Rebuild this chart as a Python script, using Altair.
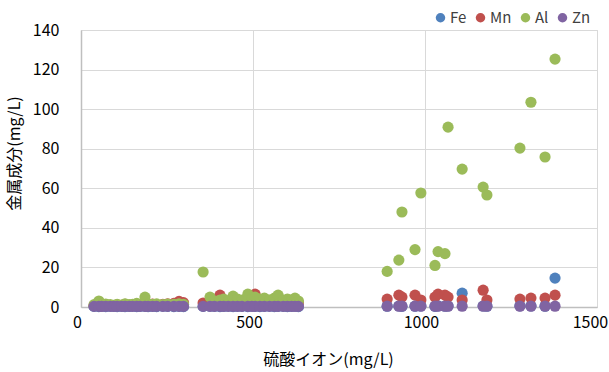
import altair as alt
import pandas as pd

# sulfate ion (mg/L) per sample
sulfate = [38, 52, 60, 72, 85, 95, 105, 118, 128, 140, 150, 162, 172, 186, 195, 208, 220, 238, 252, 270, 285, 298,
           355, 375, 388, 404, 415, 428, 442, 455, 468, 485, 497, 506, 520, 533, 548, 562, 573, 588, 600, 612, 622, 632,
           890, 924, 933, 971, 988, 1029, 1038, 1058, 1067, 1108, 1169, 1180, 1276, 1308, 1349, 1378]

fe = [0.3, 0.2, 0.3, 0.2, 0.4, 0.3, 0.2, 0.3, 0.2, 0.3, 0.4, 0.2, 0.3, 0.3, 0.2, 0.3, 0.2, 0.4, 0.3, 0.2, 0.3, 0.2,
      0.3, 0.4, 0.3, 0.2, 0.3, 0.4, 0.2, 0.3, 0.3, 0.2, 0.4, 0.3, 0.2, 0.3, 0.4, 0.2, 0.3, 0.3, 0.2, 0.3, 0.4, 0.2,
      0.4, 0.5, 0.3, 0.4, 0.5, 0.3, 0.6, 0.4, 0.5, 7.0, 0.5, 0.4, 0.6, 0.5, 0.4, 14.6]

mn = [0.8, 1.0, 0.6, 1.2, 0.9, 0.7, 1.1, 0.8, 1.3, 0.9, 1.0, 1.4, 0.8, 1.2, 1.0, 1.5, 1.1, 1.3, 1.6, 1.8, 2.8, 2.2,
      2.0, 2.5, 3.5, 6.0, 3.0, 2.2, 2.8, 3.2, 2.5, 3.0, 2.6, 6.5, 3.0, 2.4, 2.8, 2.2, 3.0, 2.5, 2.0, 2.6, 2.4, 2.2,
      4.0, 6.0, 5.0, 6.0, 3.5, 5.0, 6.5, 6.0, 5.0, 3.5, 8.5, 3.5, 4.0, 4.5, 4.5, 6.0]

al = [1.2, 3.0, 1.0, 1.5, 1.2, 0.8, 1.4, 1.0, 1.6, 1.2, 1.3, 1.8, 1.1, 5.0, 1.5, 1.4, 1.6, 1.2, 1.5, 1.3, 1.6, 1.4,
      17.7, 5.0, 3.0, 3.5, 4.0, 3.0, 5.5, 4.0, 3.5, 6.5, 4.5, 5.0, 4.0, 4.5, 3.5, 4.5, 6.0, 3.5, 4.0, 3.5, 4.5, 3.0,
      18.0, 23.7, 48.0, 29.0, 57.6, 21.0, 28.0, 27.0, 90.9, 69.7, 60.6, 56.6, 80.3, 103.5, 75.8, 125.3]

zn = [0.3] * 22 + [0.3] * 22 + [0.4] * 16

metals = ["Fe", "Mn", "Al", "Zn"]
colors = ["#4F81BD", "#C0504D", "#9BBB59", "#8064A2"]

rows = []
for name, vals in zip(metals, [fe, mn, al, zn]):
    for x, v in zip(sulfate, vals):
        rows.append({"sulfate": x, "value": v, "metal": name, "ord": metals.index(name)})
df = pd.DataFrame(rows)

font = "Noto Sans CJK JP"

chart = alt.Chart(df).mark_circle(size=125, opacity=1).encode(
    x=alt.X("sulfate:Q", title="硫酸イオン(mg/L)",
            scale=alt.Scale(domain=[0, 1500], nice=False),
            axis=alt.Axis(values=[0, 500, 1000, 1500], format="d", labelFlush=False,
                          labelPadding=7,
                          labelOffset={"condition": {"test": "datum.value == 1500", "value": -7}, "value": -4},
                          titleX=247, titleY=52, titleAlign="center", titleBaseline="middle")),
    y=alt.Y("value:Q", title="金属成分(mg/L)",
            scale=alt.Scale(domain=[0, 140], nice=False),
            axis=alt.Axis(values=list(range(0, 141, 20)), format="d", labelPadding=22,
                          titleX=-67, titleY=123, titleAngle=-90, titleAlign="center",
                          titleBaseline="middle")),
    color=alt.Color("metal:N", scale=alt.Scale(domain=metals, range=colors),
                    legend=alt.Legend(title=None, orient="none", direction="horizontal",
                                      legendX=352, legendY=-20, columns=4,
                                      symbolType="circle", symbolSize=90, symbolStrokeWidth=0,
                                      labelFontSize=15, labelFont=font, labelColor="#404040",
                                      columnPadding=6, labelOffset=2)),
    order=alt.Order("ord:Q"),
).properties(
    width=516, height=277,
    autosize="none",
    padding={"left": 81, "top": 30, "right": 12, "bottom": 65},
).configure_axis(
    grid=True, gridColor="#D9D9D9", gridWidth=1,
    domainColor="#BFBFBF", domainWidth=1.5,
    ticks=False,
    labelFont=font, labelFontSize=16, labelColor="#000000",
    titleFont=font, titleFontSize=16, titleFontWeight="normal", titleColor="#000000",
).configure_view(stroke="#D9D9D9")

chart.save("out.html", embed_options={"renderer": "svg", "actions": False})
